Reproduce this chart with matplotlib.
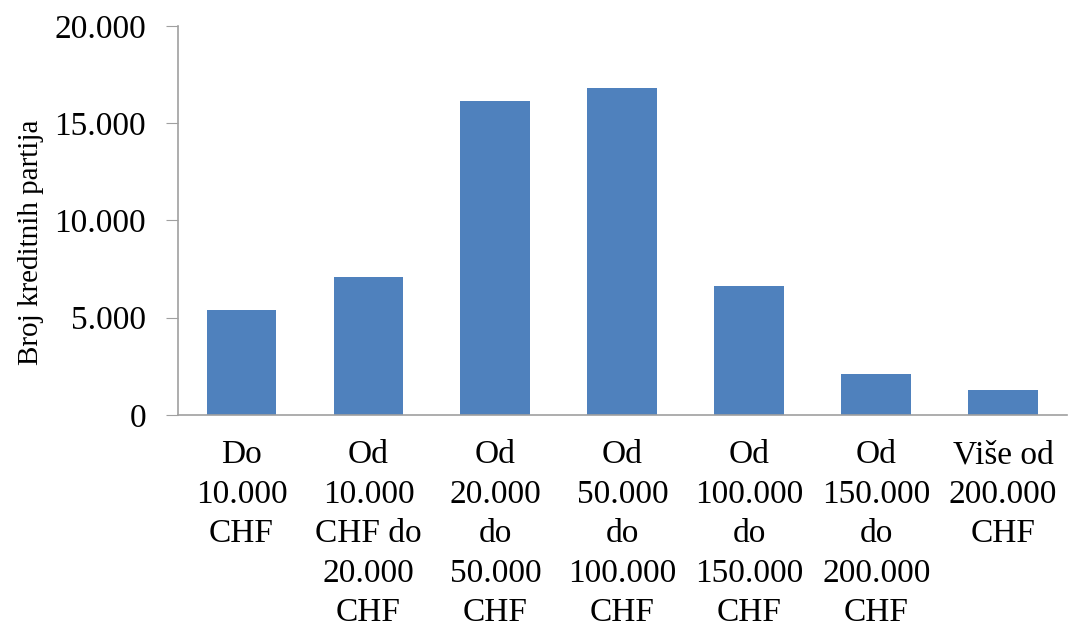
import matplotlib
matplotlib.use("Agg")
import matplotlib.pyplot as plt
from matplotlib.ticker import FuncFormatter

categories = ["Do\n10.000\nCHF", "Od\n10.000\nCHF do\n20.000\nCHF", "Od\n20.000\ndo\n50.000\nCHF",
              "Od\n50.000\ndo\n100.000\nCHF", "Od\n100.000\ndo\n150.000\nCHF", "Od\n150.000\ndo\n200.000\nCHF",
              "Više od\n200.000\nCHF"]
values = [5400, 7100, 16150, 16800, 6650, 2100, 1300]
yticks = [0, 5000, 10000, 15000, 20000]

plt.rcParams['font.family'] = ['Liberation Serif', 'DejaVu Serif']

fig = plt.figure(figsize=(10.68, 6.33), dpi=100)
ax = fig.add_axes([0.1667, 0.3444, 0.832, 0.6146])
x = list(range(len(categories)))
ax.bar(x, values, width=0.55, color='#4F81BD')
ax.set_xlim(-0.5, len(categories) - 0.5)
ax.set_ylim(0, 20000)
ax.set_yticks(yticks)
ax.yaxis.set_major_formatter(FuncFormatter(lambda v, p: f"{int(v):,}".replace(",", ".")))
ax.set_xticks(x)
ax.set_xticklabels(categories, fontsize=24, linespacing=1.38, va='top')
ax.tick_params(axis='x', length=0, pad=18)
ax.tick_params(axis='y', labelsize=24, length=9, color='#A0A0A0', pad=14)
for s in ['top', 'right']:
    ax.spines[s].set_visible(False)
for s in ['left', 'bottom']:
    ax.spines[s].set_color('#A0A0A0')
    ax.spines[s].set_linewidth(1.2)
ax.set_ylabel("Broj kreditnih partija", fontsize=21)
ax.yaxis.set_label_coords(-0.151, 0.445)
fig.savefig("out.png", dpi=100)
